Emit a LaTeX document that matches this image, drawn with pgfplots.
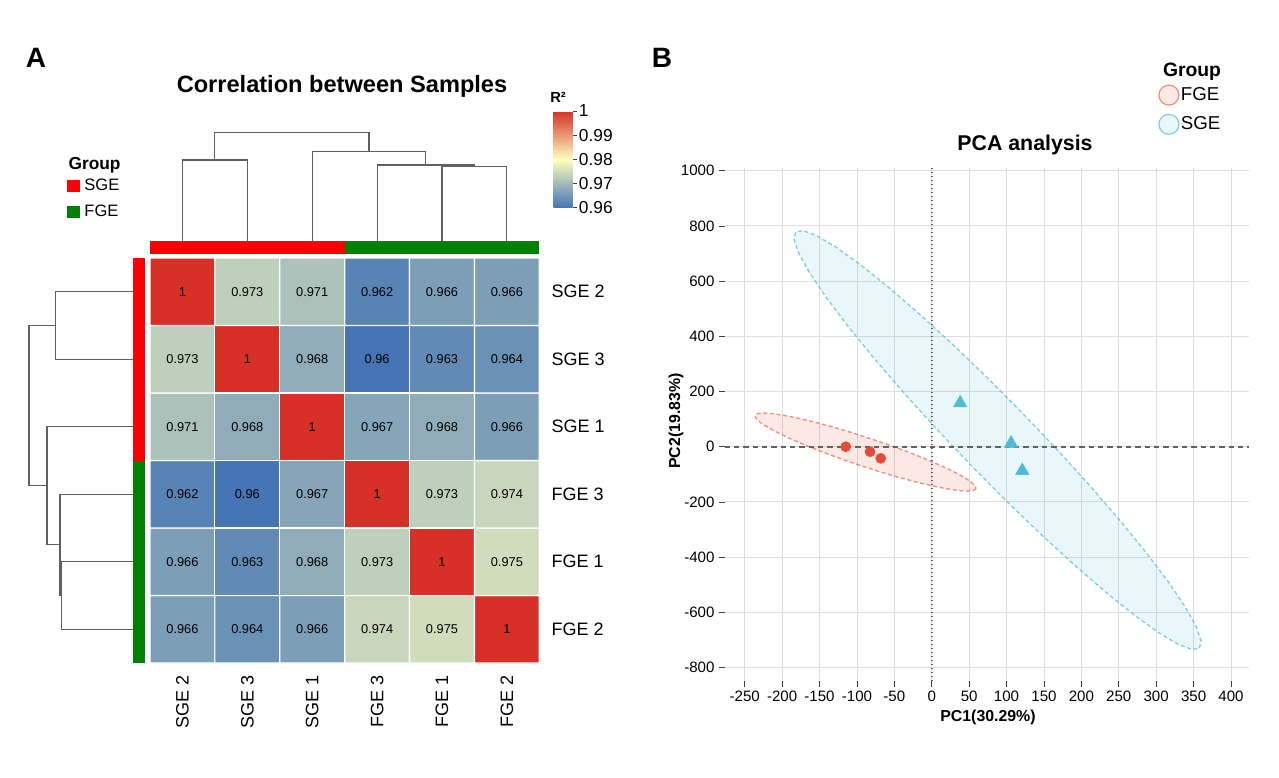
\documentclass[border=0pt]{standalone}
\usepackage{fontspec}
\setmainfont{Liberation Sans}
\usepackage{pgfplots}
\usepackage{pgfplotstable}
\pgfplotsset{compat=1.18}

\definecolor{grpred}{HTML}{FF0000}
\definecolor{grpgreen}{HTML}{008000}
\definecolor{npgred}{HTML}{E64B35}
\definecolor{npgblue}{HTML}{4DBBD5}
\definecolor{dendro}{HTML}{606060}

\newcommand{\fsz}[1]{\fontsize{#1}{#1}\selectfont}

% Pearson R^2 between samples; y = 0 is the bottom row (FGE 2), y = 5 the top row (SGE 2)
\pgfplotstableread{
x y r
0 0 0.966
1 0 0.964
2 0 0.966
3 0 0.974
4 0 0.975
5 0 1
0 1 0.966
1 1 0.963
2 1 0.968
3 1 0.973
4 1 1
5 1 0.975
0 2 0.962
1 2 0.960
2 2 0.967
3 2 1
4 2 0.973
5 2 0.974
0 3 0.971
1 3 0.968
2 3 1
3 3 0.967
4 3 0.968
5 3 0.966
0 4 0.973
1 4 1
2 4 0.968
3 4 0.960
4 4 0.963
5 4 0.964
0 5 1
1 5 0.973
2 5 0.971
3 5 0.962
4 5 0.966
5 5 0.966
}\cormat

\pgfplotsset{
  dendro line/.style={dendro, line width=0.9pt, mark=none},
}

\begin{document}
\begin{tikzpicture}

% ---------------- Panel A: correlation heatmap ----------------
\begin{axis}[
  at={(112.5pt,-497.25pt)}, anchor=south west,
  scale only axis, width=292pt, height=303.75pt,
  xmin=-0.5, xmax=5.5, ymin=-0.5, ymax=5.5,
  clip=false,
  axis line style={draw=none},
  major tick length=0pt,
  xtick={0,...,5}, ytick={0,...,5},
  xticklabels={SGE 2,SGE 3,SGE 1,FGE 3,FGE 1,FGE 2},
  yticklabels={FGE 2,FGE 1,FGE 3,SGE 1,SGE 3,SGE 2},
  xtick pos=left, xticklabel pos=left,
  ytick pos=right, yticklabel pos=right,
  x tick label style={rotate=90, anchor=east, inner sep=0pt, font=\fsz{13.5}},
  y tick label style={anchor=west, inner sep=0pt, font=\fsz{13.5}},
  xticklabel shift=9pt, yticklabel shift=9pt,
  colormap={rdylbu}{rgb255(0cm)=(69,117,180); rgb255(1cm)=(255,255,191); rgb255(2cm)=(215,48,39)},
  point meta min=0.96, point meta max=1,
  colorbar,
  colorbar style={
    at={(parent axis.north east)}, anchor=north west,
    xshift=2.25pt, yshift=110.25pt,
    scale only axis, width=14.25pt, height=72.5pt,
    axis line style={draw=none},
    ytick={0.96,0.97,0.98,0.99,1},
    yticklabels={0.96,0.97,0.98,0.99,1},
    ytick pos=right, yticklabel pos=right,
    tick align=outside, major tick length=3pt,
    tick style={black!75, line width=0.5pt},
    yticklabel style={font=\fsz{13}, inner sep=1.5pt},
  },
  legend style={
    at={(-0.2132,1.1988)}, anchor=north west,
    draw=none, fill=none, inner sep=0pt,
    nodes={inner sep=1pt},
    font=\fsz{12.4}, row sep=7.5pt,
    /tikz/every odd column/.style={column sep=2.5pt},
  },
  legend cell align=left,
  legend image code/.code={\fill (0pt,-4.7pt) rectangle (9.4pt,4.7pt);},
]
\addplot[forget plot, matrix plot*, mesh/cols=6, point meta=explicit,
  shader=faceted, faceted color=white, line width=0.9pt]
  table[x=x, y=y, meta=r] {\cormat};
\addplot[forget plot, draw=none, mark=none, point meta=explicit,
  nodes near coords={\pgfmathprintnumber[fixed, precision=3, assume math mode=true]{\pgfplotspointmeta}},
  nodes near coords style={anchor=center, inner sep=0pt, text=black, font=\fsz{9.6}}]
  table[x=x, y=y, meta=r] {\cormat};
% group annotation bars
\addplot[fill=grpred, draw=none] coordinates {(-0.5,5.559) (2.5,5.559) (2.5,5.752) (-0.5,5.752)} -- cycle;
\addlegendentry{SGE}
\addplot[fill=grpgreen, draw=none] coordinates {(2.5,5.559) (5.5,5.559) (5.5,5.752) (2.5,5.752)} -- cycle;
\addlegendentry{FGE}
\addplot[forget plot, fill=grpred, draw=none] coordinates {(-0.762,2.5) (-0.577,2.5) (-0.577,5.5) (-0.762,5.5)} -- cycle;
\addplot[forget plot, fill=grpgreen, draw=none] coordinates {(-0.762,-0.5) (-0.577,-0.5) (-0.577,2.5) (-0.762,2.5)} -- cycle;
\end{axis}

% column dendrogram
\begin{axis}[
  at={(112.5pt,-180.75pt)}, anchor=south west,
  scale only axis, width=292pt, height=81.225pt,
  xmin=-0.5, xmax=5.5, ymin=0, ymax=108.3,
  hide axis, clip=false,
]
\addplot[dendro line] coordinates {(0,0) (0,81) (1,81) (1,0)};
\addplot[dendro line] coordinates {(4,0) (4,74.3) (5,74.3) (5,0)};
\addplot[dendro line] coordinates {(3,0) (3,76) (4.5,76) (4.5,74.3)};
\addplot[dendro line] coordinates {(2,0) (2,89.7) (3.75,89.7) (3.75,76)};
\addplot[dendro line] coordinates {(0.5,81) (0.5,108.3) (2.875,108.3) (2.875,89.7)};
\end{axis}

% row dendrogram
\begin{axis}[
  at={(21.75pt,-497.25pt)}, anchor=south west,
  scale only axis, width=78.2pt, height=303.75pt,
  xmin=0, xmax=108.3, x dir=reverse, ymin=-0.5, ymax=5.5,
  hide axis, clip=false,
]
\addplot[dendro line] coordinates {(0,5) (81,5) (81,4) (0,4)};
\addplot[dendro line] coordinates {(0,1) (74.3,1) (74.3,0) (0,0)};
\addplot[dendro line] coordinates {(0,2) (76,2) (76,0.5) (74.3,0.5)};
\addplot[dendro line] coordinates {(0,3) (89.7,3) (89.7,1.25) (76,1.25)};
\addplot[dendro line] coordinates {(81,4.5) (108.3,4.5) (108.3,2.125) (89.7,2.125)};
\end{axis}

\node[font=\bfseries\fsz{21}] at (27pt,-43.5pt) {A};
\node[font=\bfseries\fsz{17.7}] at (256.5pt,-64.5pt) {Correlation between Samples};
\node[font=\bfseries\fsz{13}] at (70.9pt,-123.75pt) {Group};
\node[font=\bfseries\fsz{11}] at (418.5pt,-72.75pt) {R²};

% ---------------- Panel B: PCA ----------------
\begin{axis}[
  at={(543.4pt,-511pt)}, anchor=south west,
  scale only axis, width=393.3pt, height=385.05pt,
  xmin=-277, xmax=424, ymin=-850, ymax=1010,
  axis line style={draw=none},
  grid=major, major grid style={black!13, line width=0.65pt},
  xtick={-250,-200,...,400},
  xticklabels={-250,-200,-150,-100,-50,0,50,100,150,200,250,300,350,400},
  ytick={-800,-600,...,1000},
  yticklabels={-800,-600,-400,-200,0,200,400,600,800,1000},
  xtick pos=left, ytick pos=left,
  tick align=outside, major tick length=4pt,
  tick style={black!75, line width=0.6pt},
  ticklabel style={font=\fsz{11.3}},
  legend style={
    at={(0.8267,1.163)}, anchor=north west,
    draw=none, fill=none, inner sep=0pt,
    nodes={inner sep=1pt},
    font=\fsz{14}, row sep=6pt,
  },
  legend cell align=left,
  legend image code/.code={\filldraw[solid, line width=0.9pt] (7.5pt,0pt) circle (7.5pt);},
]
% 95% confidence ellipses
\addplot[draw=npgred, draw opacity=0.6, dash pattern=on 3pt off 2pt, line width=1pt,
  fill=npgred, fill opacity=0.13] coordinates {
  (59.2,-152.0) (55.9,-158.6) (48.3,-160.9) (36.4,-159.0) (20.8,-152.8) (1.9,-142.6)
  (-19.8,-128.6) (-43.6,-111.3) (-68.7,-91.2) (-94.5,-69.0) (-120.0,-45.2) (-144.6,-20.7)
  (-167.5,3.9) (-188.0,27.8) (-205.5,50.2) (-219.4,70.5) (-229.3,88.1) (-235.0,102.4)
  (-236.2,113.0) (-232.9,119.6) (-225.3,121.9) (-213.4,120.0) (-197.8,113.8) (-178.9,103.6)
  (-157.2,89.6) (-133.4,72.3) (-108.3,52.2) (-82.6,30.0) (-57.0,6.2) (-32.4,-18.4)
  (-9.5,-42.9) (11.0,-66.8) (28.5,-89.2) (42.4,-109.5) (52.3,-127.1) (58.0,-141.4)
} -- cycle;
\addlegendentry{FGE}
\addplot[draw=npgblue, draw opacity=0.7, dash pattern=on 3pt off 2pt, line width=1pt,
  fill=npgblue, fill opacity=0.12] coordinates {
  (358.0,-730.0) (360.0,-702.4) (353.7,-652.7) (339.3,-582.4) (317.3,-493.7) (288.3,-389.4)
  (253.2,-272.4) (213.1,-146.4) (169.2,-15.2) (122.9,117.1) (75.5,246.6) (28.5,369.4)
  (-16.8,481.6) (-58.8,580.0) (-96.4,661.4) (-128.4,723.5) (-153.8,764.4) (-171.8,782.7)
  (-182.0,778.0) (-184.0,750.4) (-177.7,700.7) (-163.3,630.4) (-141.3,541.7) (-112.3,437.4)
  (-77.2,320.4) (-37.1,194.4) (6.8,63.2) (53.1,-69.1) (100.5,-198.6) (147.5,-321.4)
  (192.8,-433.6) (234.8,-532.0) (272.4,-613.4) (304.4,-675.5) (329.8,-716.4) (347.8,-734.7)
} -- cycle;
\addlegendentry{SGE}
% reference lines through the origin
\addplot[forget plot, black!62, line width=1.2pt, dash pattern=on 4pt off 3pt]
  coordinates {(-277,0) (424,0)};
\addplot[forget plot, black!62, line width=1.3pt, dash pattern=on 1.2pt off 1.8pt]
  coordinates {(0,-850) (0,1010)};
% sample scores
\addplot[forget plot, only marks, mark=*, mark size=3.8pt, color=npgred]
  coordinates {(-115,0) (-82.5,-18) (-68.2,-42)};
\addplot[forget plot, only marks, mark=triangle*, mark size=5.8pt, color=npgblue]
  coordinates {(38,158) (106,12) (121,-87)};
\end{axis}

\node[font=\bfseries\fsz{21}] at (496.5pt,-43.5pt) {B};
\node[font=\bfseries\fsz{14.5}] at (894pt,-54pt) {Group};
\node[font=\bfseries\fsz{16}] at (768.75pt,-108.75pt) {PCA analysis};
\node[font=\bfseries\fsz{11.9}] at (741pt,-537.75pt) {PC1(30.29\%)};
\node[font=\bfseries\fsz{11.9}, rotate=90] at (507pt,-315.75pt) {PC2(19.83\%)};

\pgfresetboundingbox
\useasboundingbox (0pt,0pt) rectangle (959.25pt,-583.5pt);
\end{tikzpicture}
\end{document}
